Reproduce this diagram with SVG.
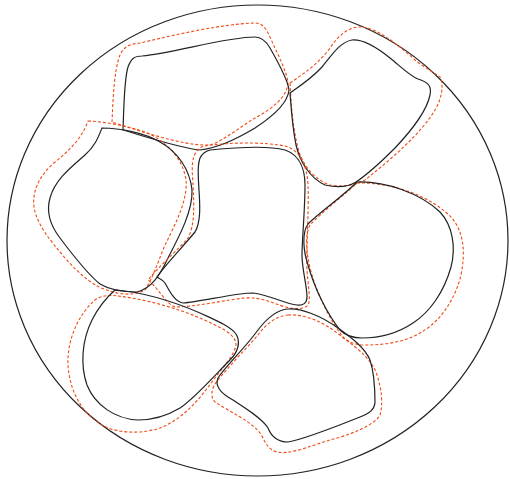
<svg xmlns="http://www.w3.org/2000/svg" width="510" height="479" viewBox="0 0 510 479">
<style>
.b{fill:none;stroke:#222;stroke-width:1.2}
.o{fill:none;stroke:#f04a14;stroke-width:1.1;stroke-dasharray:3 2}
</style>
<rect width="510" height="479" fill="#fff"/>
<ellipse id="boundary" class="b" cx="257.5" cy="240.5" rx="250.5" ry="235.5"/>
<g id="A">
<path class="o" d="M112,122 C113,100 114,70 120,55 C123,48 128,44 140,43 C170,36 220,24 255,23 C262,23 266,28 270,37 C278,55 287,72 288,83 C287,98 270,110 255,118 C240,127 225,140 210,145 C190,146 160,138 112,122 Z"/>
<path class="b" d="M123,130 C124,105 124,80 128,67 C131,59 134,56 142,56 C175,53 225,37 255,37 C262,37 266,41 270,48 C278,62 288,80 289,90 C288,102 275,115 255,128 C240,137 220,148 200,150 C180,148 150,138 123,130 Z"/>
</g>
<g id="G">
<path class="o" d="M290,83 C305,73 320,62 330,48 C338,36 348,27 360,27 C375,27 395,42 415,60 C425,68 435,73 440,77 C444,85 442,98 435,110 C420,135 390,160 365,180 C355,186 340,187 330,185 C315,180 302,165 298,148 C292,125 291,100 290,83 Z"/>
<path class="b" d="M290,93 C300,86 312,78 322,67 C332,55 340,42 352,40 C362,39 375,46 390,58 C400,66 410,76 418,79 C428,82 432,86 430,95 C427,110 412,130 395,148 C382,161 368,174 356,182 C348,187 338,188 325,185 C310,178 300,162 296,145 C292,125 291,105 290,93 Z"/>
</g>
<g id="B">
<path class="o" d="M88,121 C110,122 135,128 150,134 C170,145 183,160 186,180 C188,200 175,225 165,245 C158,262 152,280 145,290 C135,296 120,295 107,290 C95,287 80,275 65,258 C50,240 37,225 34,207 C32,190 40,175 55,162 C70,150 82,138 88,121 Z"/>
<path class="b" d="M102,128 C120,128 145,133 160,142 C178,152 190,170 192,190 C193,210 180,235 168,258 C160,275 152,288 137,292 C125,292 110,290 100,284 C90,276 75,258 60,238 C50,225 46,212 50,198 C55,180 70,168 85,155 C95,146 98,138 102,128 Z"/>
</g>
<g id="C">
<path class="o" d="M205,146 C230,142 265,142 285,146 C300,150 307,165 308,185 C309,215 306,250 307,270 C308,285 311,300 308,305 C304,310 295,309 285,307 C270,302 260,297 245,298 C225,300 195,307 175,307 C165,303 160,290 148,280 C160,265 178,250 188,238 C195,225 194,205 193,185 C192,170 191,158 197,151 C199,148 202,147 205,146 Z"/>
<path class="b" d="M210,150 C240,147 270,146 285,150 C300,155 305,170 305,185 C305,210 302,240 302,255 C302,270 307,285 307,297 C307,303 303,306 297,305 C285,304 270,295 253,293 C235,293 200,302 183,303 C175,302 170,292 165,283 C162,279 158,278 157,277 C165,265 180,250 195,232 C201,222 200,205 199,190 C198,175 197,160 202,155 C204,152 207,151 210,150 Z"/>
</g>
<g id="F">
<path class="o" d="M357,183 C390,182 430,195 452,218 C463,232 466,250 461,275 C455,300 440,322 420,333 C405,342 385,345 365,345 C355,345 348,342 343,337 C330,320 317,295 310,268 C306,250 305,235 310,225 C322,212 342,197 357,183 Z"/>
<path class="b" d="M357,182 C385,181 420,193 440,212 C453,226 456,248 451,267 C444,292 430,312 413,323 C398,333 380,338 362,338 C352,338 345,335 340,330 C328,315 315,290 308,265 C303,250 302,232 308,224 C320,212 342,197 357,182 Z"/>
</g>
<g id="D">
<path class="o" d="M118,296 C150,300 185,310 215,325 C230,332 236,338 236,345 C234,355 225,365 215,378 C200,398 185,418 160,428 C145,433 125,434 108,428 C85,418 70,395 68,365 C67,340 78,315 95,300 C102,295 110,295 118,296 Z"/>
<path class="b" d="M115,290 C140,292 170,300 200,313 C215,320 230,326 236,334 C241,342 238,352 230,360 C215,375 195,398 180,408 C165,417 150,420 138,420 C115,419 95,405 87,385 C80,365 82,340 92,320 C98,308 106,298 115,290 Z"/>
</g>
<g id="E">
<path class="o" d="M288,315 C305,314 325,322 342,337 C360,350 372,360 377,375 C382,390 383,405 380,415 C375,425 350,435 330,440 C310,446 290,455 277,452 C270,450 266,445 262,436 C255,423 230,412 215,402 C210,397 211,388 218,380 C230,365 245,350 258,335 C266,324 276,316 288,315 Z"/>
<path class="b" d="M288,309 C300,308 320,315 338,328 C352,338 365,348 370,360 C375,375 375,395 375,403 C374,410 370,413 360,417 C340,425 300,440 288,442 C278,442 272,438 268,428 C262,418 245,408 233,400 C220,393 215,385 218,378 C225,367 245,348 258,330 C267,318 276,310 288,309 Z"/>
</g>
<g id="connectors"/>
</svg>
